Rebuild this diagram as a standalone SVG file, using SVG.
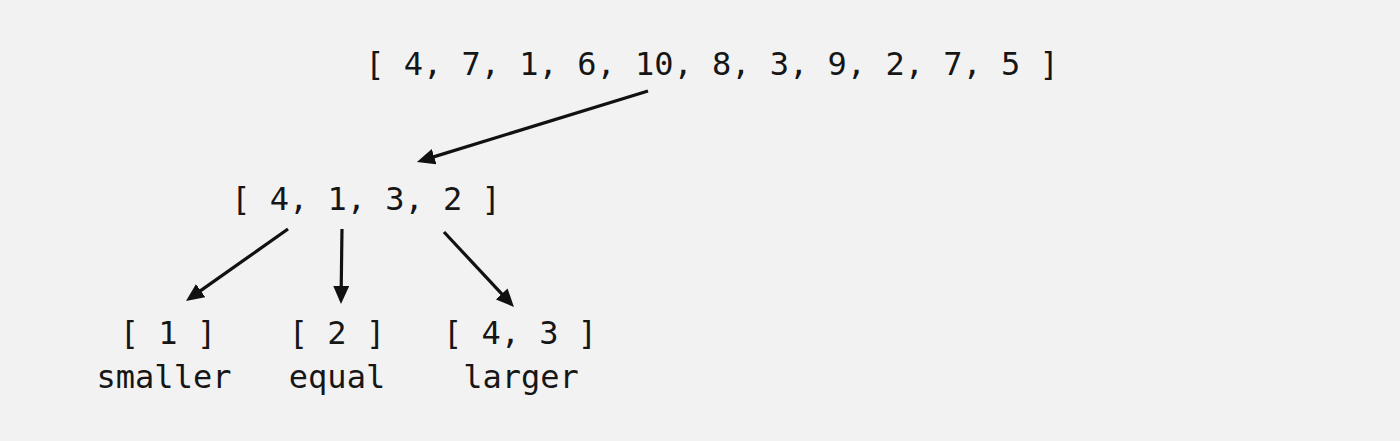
<svg xmlns="http://www.w3.org/2000/svg" width="1400" height="441" viewBox="0 0 1400 441">
<style>
  .t { font-family: "DejaVu Sans Mono", "Liberation Mono", monospace; font-size: 32px; fill: #161616; text-anchor: middle; }
  .c { stroke: #111; stroke-width: 3.2; fill: none; marker-end: url(#ah); }
</style>
<defs>
  <marker id="ah" markerUnits="userSpaceOnUse" markerWidth="18" markerHeight="16" refX="10" refY="8" orient="auto" viewBox="0 0 18 16">
    <path d="M0,0 L18,8 L0,16 z" fill="#111"/>
  </marker>
</defs>
<rect width="1400" height="441" fill="#f2f2f2"/>
<g id="root"><text class="t" x="712" y="75">[ 4, 7, 1, 6, 10, 8, 3, 9, 2, 7, 5 ]</text></g>
<g id="sub"><text class="t" x="366" y="210">[ 4, 1, 3, 2 ]</text></g>
<g id="smaller"><text class="t" x="168" y="344">[ 1 ]</text><text class="t" x="164" y="388">smaller</text></g>
<g id="equal"><text class="t" x="337" y="344">[ 2 ]</text><text class="t" x="337" y="388">equal</text></g>
<g id="larger"><text class="t" x="520" y="344">[ 4, 3 ]</text><text class="t" x="521" y="388">larger</text></g>
<g id="connectors">
  <line class="c" x1="648" y1="91" x2="424.6" y2="159.6"/>
  <line class="c" x1="288" y1="229" x2="192.5" y2="296.4"/>
  <line class="c" x1="342" y1="229" x2="341.1" y2="296"/>
  <line class="c" x1="444" y1="232" x2="508.5" y2="301.2"/>
</g>
</svg>
